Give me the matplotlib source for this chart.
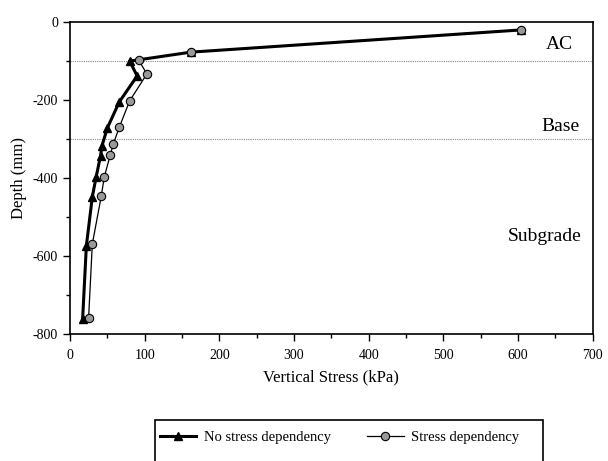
import matplotlib
matplotlib.use('Agg')
import matplotlib.pyplot as plt
from matplotlib.patches import Rectangle
from matplotlib.ticker import MultipleLocator

# Vertical stress vs depth, two model variants
no_dep_stress = [604, 162, 80, 90, 66, 50, 43, 41, 35, 30, 22, 17]
no_dep_depth = [-20, -77, -100, -138, -205, -272, -317, -343, -398, -448, -574, -762]

dep_stress = [604, 162, 92, 103, 80, 66, 58, 54, 46, 42, 30, 25]
dep_depth = [-20, -77, -97, -133, -202, -270, -313, -341, -397, -446, -569, -759]

layer_bounds = [-100, -300]
layer_names = ["AC", "Base", "Subgrade"]
layer_label_pos = [(655, -58), (657, -268), (635, -550)]

plt.rcParams['font.family'] = ['Liberation Serif', 'DejaVu Serif']
plt.rcParams['axes.unicode_minus'] = False

fig = plt.figure(figsize=(6.08, 4.61), dpi=100)
ax = fig.add_axes([0.115, 0.2755, 0.86, 0.6765])

for b in layer_bounds:
    ax.axhline(b, color='#888888', lw=0.8, ls=(0, (1, 1)), zorder=1)

ax.plot(no_dep_stress, no_dep_depth, color='black', lw=2.2, marker='^',
        ms=6, mfc='black', mec='black', label='No stress dependency', zorder=3)
ax.plot(dep_stress, dep_depth, color='black', lw=0.9, marker='o',
        ms=6, mfc='#999999', mec='black', mew=0.8, label='Stress dependency', zorder=4)

for name, (x, y) in zip(layer_names, layer_label_pos):
    ax.text(x, y, name, fontsize=14, ha='center', va='center')

ax.set_xlim(0, 700)
ax.set_ylim(-800, 0)
ax.xaxis.set_major_locator(MultipleLocator(100))
ax.xaxis.set_minor_locator(MultipleLocator(50))
ax.yaxis.set_major_locator(MultipleLocator(200))
ax.yaxis.set_minor_locator(MultipleLocator(100))
ax.tick_params(which='both', direction='out', labelsize=10, width=1)
ax.tick_params(which='major', length=5)
ax.tick_params(which='minor', length=3)
ax.tick_params(axis='x', pad=6)
for s in ax.spines.values():
    s.set_linewidth(1.2)

ax.set_xlabel("Vertical Stress (kPa)", fontsize=12, labelpad=5)
ax.set_ylabel("Depth (mm)", fontsize=12, labelpad=4)

# legend box runs off the bottom of the figure, as in the scanned original
W, H = 608, 461
fig.patches.append(Rectangle((155 / W, -0.05), (543 - 155) / W, 0.05 + (H - 420) / H,
                             transform=fig.transFigure, fill=False,
                             edgecolor='black', lw=1.2))
fig.legend(loc='center left', bbox_to_anchor=(160 / W, 1 - 437 / H), ncol=2,
           fontsize=10.5, frameon=False, handlelength=2.5, columnspacing=2.5,
           handletextpad=0.5, borderaxespad=0, borderpad=0)

plt.savefig("out.png", dpi=100)
